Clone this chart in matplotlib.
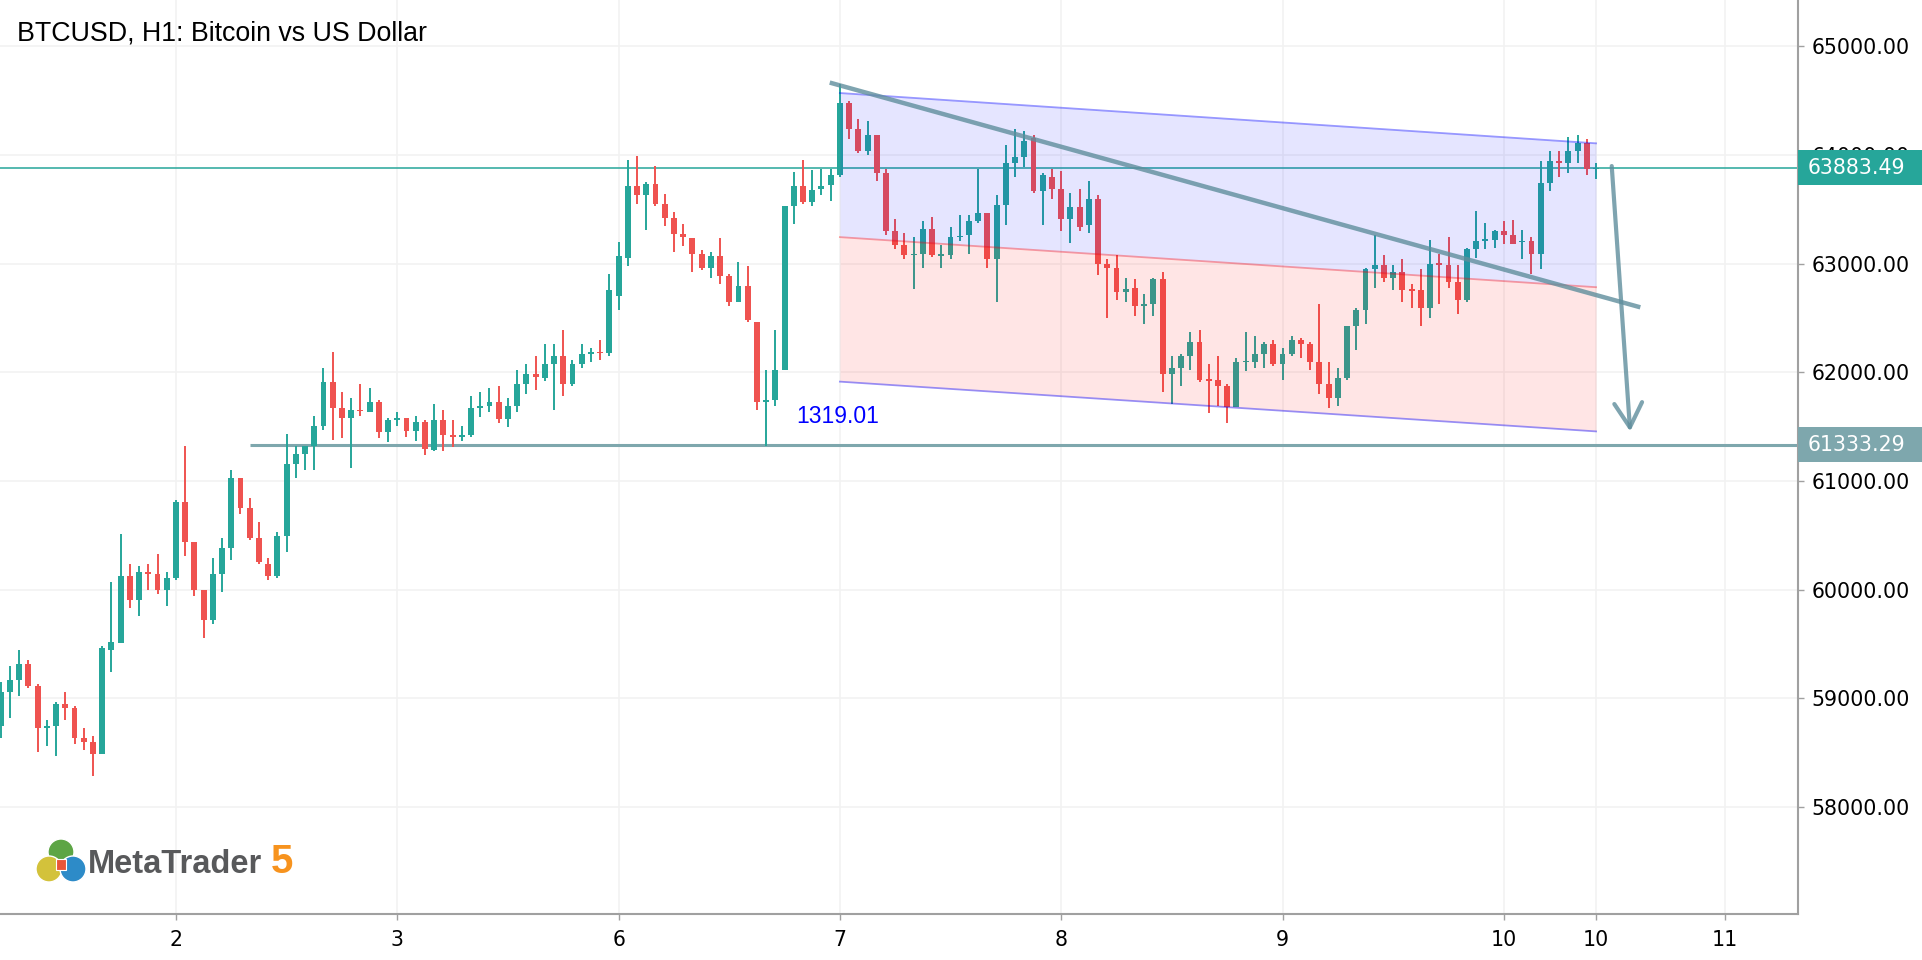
import numpy as np
import matplotlib.pyplot as plt
from matplotlib.patches import Rectangle, Circle
from matplotlib.transforms import blended_transform_factory

# hourly bars, bar 0 = first hour of day 2
FIRST_BAR = -19
opens = [58743, 59060, 59167, 59315, 59112, 58728, 58743, 58946, 58912, 58633,
         58596, 58489, 59447, 59505, 60126, 59905, 60160, 60144, 59997,
         60107, 60808, 60439, 59997, 59720, 60144, 60384, 61029, 60753, 60476,
         60236, 60126, 60494, 61158, 61250, 61324, 61508, 61914, 61674, 61582,
         61656, 61637, 61729, 61453, 61564, 61579, 61456, 61542, 61284, 61561,
         61419, 61407, 61419, 61671, 61689, 61726, 61567, 61689, 61892, 61984,
         61948, 62077, 62150, 61892, 62077, 62170, 62187, 62175, 62703, 63053,
         63717, 63631, 63735, 63551, 63422, 63275, 63238, 63090, 62961, 63072,
         62888, 62648, 62795, 62464, 61726, 61745, 62021, 63533, 63717, 63570,
         63689, 63720, 63812, 64476, 64236, 64033, 64181, 63831, 63296, 63167,
         63078, 63093, 63315, 63070, 63075, 63241, 63259, 63388, 63462, 63038,
         63536, 63923, 63978, 64160, 63665, 63794, 63683, 63407, 63517, 63352,
         63591, 63001, 62964, 62743, 62780, 62614, 62633, 62854, 61988, 62043,
         62153, 62282, 61932, 61932, 61877, 61680, 62092, 62098, 62171, 62264,
         62079, 62171, 62300, 62264, 62098, 61895, 61766, 61950, 62430, 62577,
         62946, 62983, 62872, 62927, 62761, 62761, 62595, 63001, 62983, 62835,
         62669, 63130, 63210, 63222, 63296, 63259, 63198, 63204, 63093, 63738,
         63941, 63923, 64033, 64107, 63867]
highs = [59152, 59296, 59444, 59352, 59131, 58799, 58965, 59057, 58928, 58725,
         58651, 59481, 60071, 60513, 60236, 60218, 60236, 60329, 60163,
         60826, 61324, 60439, 59997, 60292, 60476, 61103, 61029, 60845, 60624,
         60292, 60531, 61435, 61324, 61324, 61600, 62043, 62190, 61822, 61766,
         61895, 61858, 61748, 61582, 61637, 61579, 61597, 61561, 61708, 61653,
         61561, 61505, 61782, 61818, 61855, 61874, 61763, 62021, 62077, 62150,
         62261, 62261, 62390, 62113, 62261, 62224, 62298, 62906, 63201, 63957,
         63993, 63754, 63901, 63643, 63477, 63367, 63238, 63127, 63109, 63238,
         62906, 63017, 62980, 62464, 62021, 62390, 63533, 63846, 63957, 63864,
         63874, 63874, 64650, 64494, 64328, 64310, 64181, 63868, 63407, 63278,
         63241, 63388, 63425, 63167, 63333, 63444, 63444, 63868, 63462, 63628,
         64089, 64236, 64218, 64181, 63831, 63868, 63849, 63646, 63683, 63757,
         63628, 63038, 63075, 62872, 62854, 62725, 62872, 62927, 62153, 62172,
         62375, 62393, 62079, 62153, 61895, 62135, 62374, 62337, 62282, 62300,
         62227, 62337, 62319, 62282, 62632, 62098, 62042, 62430, 62595, 62964,
         63259, 63075, 62983, 63038, 62817, 62946, 63222, 63093, 63241, 62983,
         63148, 63480, 63370, 63314, 63388, 63406, 63314, 63241, 63941, 64033,
         64033, 64162, 64181, 64144, 63923]
lows = [58639, 58820, 59023, 59094, 58507, 58562, 58470, 58802, 58581, 58525,
        58286, 58489, 59244, 59505, 59831, 59757, 59997, 59960, 59849,
        60089, 60310, 59942, 59554, 59684, 59978, 60273, 60697, 60458, 60236,
        60089, 60107, 60347, 61029, 61103, 61103, 61471, 61379, 61398, 61121,
        61600, 61637, 61398, 61361, 61508, 61401, 61364, 61235, 61272, 61272,
        61309, 61364, 61401, 61585, 61634, 61530, 61493, 61634, 61800, 61837,
        61917, 61653, 61782, 61874, 62040, 62095, 62113, 62150, 62574, 62980,
        63551, 63311, 63533, 63348, 63109, 63164, 62924, 62943, 62869, 62814,
        62611, 62648, 62464, 61653, 61319, 61689, 62021, 63367, 63551, 63533,
        63634, 63573, 63794, 64144, 64015, 63997, 63757, 63259, 63130, 63038,
        62762, 62964, 63057, 62964, 63038, 63204, 63093, 63370, 62964, 62651,
        63352, 63794, 63886, 63646, 63352, 63591, 63296, 63186, 63296, 63278,
        62891, 62504, 62669, 62651, 62522, 62448, 62522, 61822, 61711, 61877,
        62024, 61914, 61625, 61692, 61532, 61680, 62012, 62042, 62042, 62061,
        61932, 62153, 62135, 62024, 61803, 61674, 61692, 61932, 62208, 62448,
        62780, 62835, 62761, 62651, 62595, 62430, 62503, 62632, 62780, 62540,
        62651, 63056, 63130, 63148, 63185, 63185, 63038, 62909, 62946, 63664,
        63793, 63830, 63923, 63812, 63775]
closes = [59060, 59167, 59315, 59112, 58728, 58743, 58946, 58912, 58636, 58599,
          58489, 59462, 59518, 60126, 59905, 60163, 60144, 59997, 60107,
          60808, 60439, 59997, 59720, 60144, 60384, 61029, 60753, 60476, 60255,
          60126, 60494, 61158, 61250, 61324, 61508, 61914, 61674, 61582, 61656,
          61640, 61729, 61453, 61564, 61579, 61456, 61542, 61290, 61561, 61419,
          61407, 61419, 61671, 61689, 61726, 61567, 61689, 61892, 61984, 61954,
          62077, 62150, 61892, 62077, 62169, 62187, 62175, 62759, 63072, 63717,
          63631, 63735, 63551, 63422, 63275, 63244, 63090, 62961, 63072, 62888,
          62648, 62795, 62482, 61726, 61745, 62021, 63533, 63717, 63570, 63680,
          63714, 63812, 64476, 64236, 64033, 64181, 63831, 63296, 63167, 63075,
          63093, 63315, 63075, 63084, 63241, 63256, 63388, 63462, 63038, 63536,
          63923, 63978, 64126, 63665, 63812, 63683, 63407, 63517, 63333, 63591,
          63001, 62964, 62743, 62762, 62614, 62633, 62854, 61988, 62043, 62153,
          62282, 61932, 61920, 61877, 61680, 62098, 62100, 62171, 62264, 62079,
          62171, 62300, 62264, 62098, 61895, 61766, 61950, 62430, 62577, 62946,
          62983, 62872, 62927, 62761, 62750, 62595, 63001, 62990, 62835, 62669,
          63130, 63204, 63222, 63296, 63259, 63185, 63204, 63093, 63738, 63941,
          63930, 64033, 64107, 63867, 63883.49]

day_ticks = [0, 24, 48, 72, 96, 120, 144, 154, 168]
day_labels = ["2", "3", "6", "7", "8", "9", "10", "10", "11"]
price_ticks = [58000, 59000, 60000, 61000, 62000, 63000, 64000, 65000]

last_price = 63883.49
support_price = 61333.29
support_start = 8

# drawn objects on the chart
channel_x = [72, 154]
channel_top = [64570, 64107]
channel_mid = [63244, 62783]
channel_bot = [61914, 61456]
trend_x = [70.9, 158.8]
trend_y = [64666, 62598]
arrow_from = (155.7, 63898)
arrow_to = (157.7, 61455)
note_text = "1319.01"
note_pos = (67.3, 61534)

UP = "#26A69A"
DOWN = "#EF5350"
TOOL = "#5F8E9C"

fig = plt.figure(figsize=(19.22, 9.6), dpi=100)
ax = fig.add_axes([0, 1 - 914 / 960, 1798 / 1922, 914 / 960])
ax.set_xlim(-19.08, 175.9)
ax.set_ylim(57015, 65426)

o = np.array(opens, float)
h = np.array(highs, float)
l = np.array(lows, float)
c = np.array(closes, float)
x = np.arange(FIRST_BAR, FIRST_BAR + len(o))
cols = np.where(c >= o, UP, DOWN)

body_lo = np.minimum(o, c)
body_h = np.maximum(np.abs(c - o), 14)
ax.vlines(x, l, h, colors=cols, linewidth=1.4, zorder=2)
ax.bar(x, body_h, bottom=body_lo, width=0.64, color=cols, linewidth=0, zorder=2.1)

# price lines
ax.axhline(last_price, color=UP, linewidth=1.1, zorder=1.8)
ax.hlines(support_price, support_start, ax.get_xlim()[1], color="#7EA7AD",
          linewidth=2.2, zorder=1.9)

# equidistant channel
ax.fill_between(channel_x, channel_mid, channel_top, color="#0000FF", alpha=0.1,
                linewidth=0, zorder=3)
ax.fill_between(channel_x, channel_bot, channel_mid, color="#FF0000", alpha=0.1,
                linewidth=0, zorder=3)
ax.plot(channel_x, channel_top, color="#0000FF", alpha=0.4, linewidth=1.3, zorder=3.2)
ax.plot(channel_x, channel_bot, color="#0000FF", alpha=0.4, linewidth=1.3, zorder=3.2)
ax.plot(channel_x, channel_mid, color="#FF0000", alpha=0.35, linewidth=1.3, zorder=3.2)

# trendline and arrow
ax.plot(trend_x, trend_y, color=TOOL, alpha=0.8, linewidth=3.2,
        solid_capstyle="butt", zorder=4)
ax.annotate("", xy=arrow_to, xytext=arrow_from, zorder=4,
            arrowprops=dict(arrowstyle="->,head_length=1.75,head_width=1.0",
                            color=TOOL, alpha=0.8, lw=3, mutation_scale=10,
                            shrinkA=0, shrinkB=0))
ax.text(note_pos[0], note_pos[1], note_text, color="#0000FF", fontsize=16.5,
        family="Liberation Sans", va="baseline", ha="left", zorder=5)

# axes styling
ax.grid(color="#F2F2F2", linewidth=1.2)
ax.set_axisbelow(True)
for side in ("top", "left"):
    ax.spines[side].set_visible(False)
for side in ("right", "bottom"):
    ax.spines[side].set_color("#A0A0A0")
    ax.spines[side].set_linewidth(1.5)
ax.yaxis.tick_right()
ax.set_yticks(price_ticks)
ax.set_yticklabels([f"{p:.2f}" for p in price_ticks])
ax.set_xticks(day_ticks)
ax.set_xticklabels(day_labels)
ax.tick_params(axis="both", length=4.5, width=1, color="#A0A0A0",
               labelsize=14.8, labelcolor="black")
ax.tick_params(axis="y", pad=5)
ax.tick_params(axis="x", pad=7)

# price labels on the scale
tr = blended_transform_factory(ax.transAxes, ax.transData)
box_h = 322
for price, bg in ((last_price, "#26A69A"), (support_price, "#7EA7AD")):
    ax.add_patch(Rectangle((1.0, price - box_h / 2), 0.07, box_h, transform=tr,
                           facecolor=bg, edgecolor="none", clip_on=False, zorder=6))
    ax.text(1.0 + 10 / 1798, price, f"{price:.2f}", transform=tr, color="white",
            fontsize=14.8, va="center", ha="left", clip_on=False, zorder=7)

# title
fig.text(17 / 1922, 1 - 41 / 960, "BTCUSD, H1: Bitcoin vs US Dollar",
         fontsize=19.3, family="Liberation Sans", va="baseline", ha="left")

# MetaTrader 5 badge (pixel units, origin bottom-left)
W, H = 1922, 960
px = fig.dpi_scale_trans
for cx, cy, r, col in ((61, 852, 13, "#5DA545"), (49, 869, 13, "#D3C23B"),
                       (73, 869, 13, "#2D8BC8")):
    fig.patches.append(Circle((cx / 100, (H - cy) / 100), r / 100, transform=px,
                              facecolor=col, edgecolor="white", linewidth=1))
fig.patches.append(Rectangle((56 / 100, (H - 870) / 100), 10 / 100, 11 / 100,
                             transform=px, facecolor="#E8563A", edgecolor="white",
                             linewidth=0.8))
fig.text(88 / W, 1 - 873 / H, "MetaTrader", fontsize=23.5, fontweight="bold",
         family="Liberation Sans", color="#58595B", va="baseline", ha="left")
fig.text(271 / W, 1 - 873 / H, "5", fontsize=29, fontweight="bold",
         family="Liberation Sans", color="#F7931E", va="baseline", ha="left")

fig.savefig("out.png", dpi=100)
